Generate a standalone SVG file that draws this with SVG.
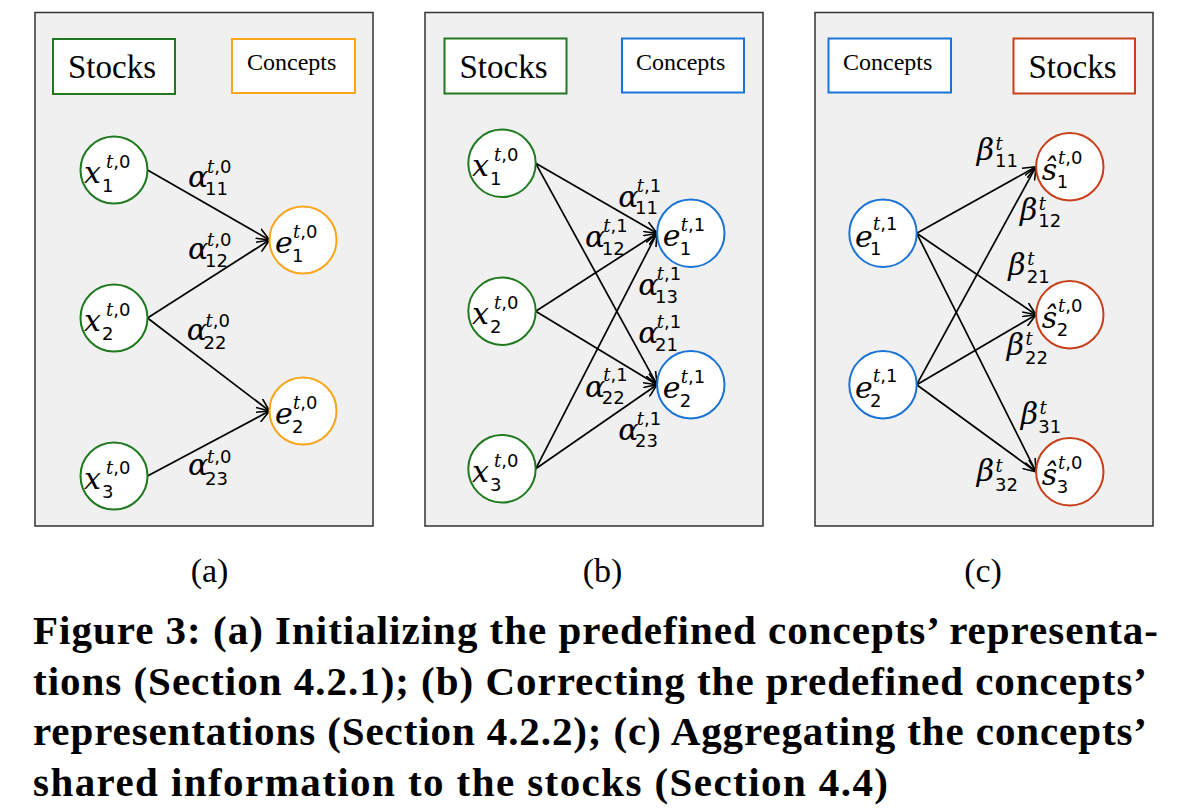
<svg xmlns="http://www.w3.org/2000/svg" width="1179" height="808" viewBox="0 0 1179 808">
<style>
.bg{fill:#ffffff}
.panel{fill:#f0f0f0;stroke:#333333;stroke-width:1.5}
.box{fill:#ffffff;stroke-width:2}
.nd{fill:#ffffff;stroke-width:2}
.g{stroke:#1f7a1f}
.o{stroke:#f9a61c}
.b{stroke:#1a73d6}
.r{stroke:#c8401a}
.bt{font-family:"Liberation Serif",serif;fill:#000}
.m{font-family:"DejaVu Serif",serif;font-style:italic;font-size:30px;fill:#000}
.s{font-family:"DejaVu Sans",sans-serif;font-size:18px;fill:#000}
.i{font-family:"DejaVu Serif",serif;font-style:italic}
.e{stroke:#000;stroke-width:1.7;fill:none;marker-end:url(#ah)}
.cap{font-family:"Liberation Serif",serif;font-weight:bold;font-size:41px;fill:#000}
.sub{font-family:"Liberation Serif",serif;font-size:34px;fill:#000;text-anchor:middle}
</style>
<defs>
<marker id="ah" viewBox="0 0 14 12" refX="13" refY="6" markerWidth="14" markerHeight="12" markerUnits="userSpaceOnUse" orient="auto">
<path d="M0,0.5 L13,6 L0,11.5" fill="none" stroke="#000" stroke-width="1.6"/>
</marker>
</defs>
<rect class="bg" x="0" y="0" width="1179" height="808"/>

<!-- Panel a -->
<g id="panel-a">
<rect class="panel" x="35" y="12.5" width="338" height="513.5"/>
<g id="a-stocks"><rect class="box g" x="53" y="39" width="122" height="55"/><text class="bt" x="68" y="78" font-size="33">Stocks</text></g>
<g id="a-concepts"><rect class="box o" x="232" y="39" width="123" height="54"/><text class="bt" x="247" y="70" font-size="24">Concepts</text></g>
</g>
<!-- Panel b -->
<g id="panel-b">
<rect class="panel" x="425" y="12.5" width="338" height="513.5"/>
<g id="b-stocks"><rect class="box g" x="444.5" y="38.5" width="122" height="55"/><text class="bt" x="459.5" y="77.7" font-size="33">Stocks</text></g>
<g id="b-concepts"><rect class="box b" x="622" y="38.5" width="122" height="54"/><text class="bt" x="636" y="70" font-size="24">Concepts</text></g>
</g>
<!-- Panel c -->
<g id="panel-c">
<rect class="panel" x="815" y="12.5" width="338" height="513.5"/>
<g id="c-concepts"><rect class="box b" x="828.5" y="38.5" width="122.5" height="54"/><text class="bt" x="843" y="70" font-size="24">Concepts</text></g>
<g id="c-stocks"><rect class="box r" x="1013.5" y="38.5" width="121.5" height="55"/><text class="bt" x="1028.5" y="77.7" font-size="33">Stocks</text></g>
</g>

<g id="connectors">
<!-- a -->
<path class="e" d="M147.5,170 L269.5,240"/>
<path class="e" d="M147.5,318 L269.5,240"/>
<path class="e" d="M147.5,318 L269.5,411"/>
<path class="e" d="M147.5,476 L269.5,411"/>
<!-- b -->
<path class="e" d="M535.7,163.3 L657,233.3"/>
<path class="e" d="M535.7,163.3 L657,384.7"/>
<path class="e" d="M535.7,311.2 L657,233.3"/>
<path class="e" d="M535.7,311.2 L657,384.7"/>
<path class="e" d="M535.7,468.8 L657,233.3"/>
<path class="e" d="M535.7,468.8 L657,384.7"/>
<!-- c -->
<path class="e" d="M916.7,233.3 L1036,166.7"/>
<path class="e" d="M916.7,233.3 L1036,314.7"/>
<path class="e" d="M916.7,233.3 L1036,471.8"/>
<path class="e" d="M916.7,384.7 L1036,166.7"/>
<path class="e" d="M916.7,384.7 L1036,314.7"/>
<path class="e" d="M916.7,384.7 L1036,471.8"/>
</g>

<g id="edge-labels">
<!-- a -->
<g id="la11"><text class="m" x="188" y="187">α</text><text class="s" x="207" y="173"><tspan class="i">t</tspan>,0</text><text class="s" x="205" y="194.5">11</text></g>
<g id="la12"><text class="m" x="188" y="258.5">α</text><text class="s" x="207" y="246"><tspan class="i">t</tspan>,0</text><text class="s" x="205" y="266.5">12</text></g>
<g id="la22"><text class="m" x="186.7" y="340">α</text><text class="s" x="205.5" y="326.7"><tspan class="i">t</tspan>,0</text><text class="s" x="203.5" y="349.3">22</text></g>
<g id="la23"><text class="m" x="188" y="475">α</text><text class="s" x="207" y="463"><tspan class="i">t</tspan>,0</text><text class="s" x="205" y="485">23</text></g>
<!-- b -->
<g id="lb11"><text class="m" x="618.3" y="206.7">α</text><text class="s" x="636.7" y="191.7"><tspan class="i">t</tspan>,1</text><text class="s" x="635" y="214">11</text></g>
<g id="lb12"><text class="m" x="585" y="246.7">α</text><text class="s" x="603.3" y="231.7"><tspan class="i">t</tspan>,1</text><text class="s" x="601.7" y="255">12</text></g>
<g id="lb13"><text class="m" x="638.3" y="295">α</text><text class="s" x="656.7" y="280"><tspan class="i">t</tspan>,1</text><text class="s" x="655" y="302.7">13</text></g>
<g id="lb21"><text class="m" x="638.3" y="343.3">α</text><text class="s" x="656.7" y="328.3"><tspan class="i">t</tspan>,1</text><text class="s" x="655" y="350.7">21</text></g>
<g id="lb22"><text class="m" x="585" y="396.7">α</text><text class="s" x="603.3" y="381"><tspan class="i">t</tspan>,1</text><text class="s" x="601.7" y="404.3">22</text></g>
<g id="lb23"><text class="m" x="618.3" y="440">α</text><text class="s" x="636.7" y="425"><tspan class="i">t</tspan>,1</text><text class="s" x="635" y="447.3">23</text></g>
<!-- c -->
<g id="lc11"><text class="m" x="976.7" y="160">β</text><text class="s i" x="995.5" y="150">t</text><text class="s" x="995" y="166.7">11</text></g>
<g id="lc12"><text class="m" x="1020" y="220">β</text><text class="s i" x="1038.8" y="210">t</text><text class="s" x="1038.3" y="227.3">12</text></g>
<g id="lc21"><text class="m" x="1008.3" y="275">β</text><text class="s i" x="1027.2" y="265">t</text><text class="s" x="1026.7" y="283.3">21</text></g>
<g id="lc22"><text class="m" x="1006.7" y="355">β</text><text class="s i" x="1025.5" y="345">t</text><text class="s" x="1025" y="364">22</text></g>
<g id="lc31"><text class="m" x="1020.7" y="424">β</text><text class="s i" x="1039.5" y="414">t</text><text class="s" x="1038.3" y="433.3">31</text></g>
<g id="lc32"><text class="m" x="976.7" y="481">β</text><text class="s i" x="995.5" y="471.7">t</text><text class="s" x="995" y="490.7">32</text></g>
</g>

<!-- nodes a -->
<g id="a-x1"><circle class="nd g" cx="114" cy="170" r="33.5"/><text class="m" x="84" y="183">x</text><text class="s" x="106" y="168"><tspan class="i">t</tspan>,0</text><text class="s" x="102" y="192">1</text></g>
<g id="a-x2"><circle class="nd g" cx="114" cy="318" r="33.5"/><text class="m" x="84" y="331">x</text><text class="s" x="106" y="316"><tspan class="i">t</tspan>,0</text><text class="s" x="102" y="340">2</text></g>
<g id="a-x3"><circle class="nd g" cx="114" cy="476" r="33.5"/><text class="m" x="84" y="489">x</text><text class="s" x="106" y="474"><tspan class="i">t</tspan>,0</text><text class="s" x="102" y="498">3</text></g>
<g id="a-e1"><circle class="nd o" cx="303" cy="240" r="33.5"/><text class="m" x="275" y="253">e</text><text class="s" x="293" y="238"><tspan class="i">t</tspan>,0</text><text class="s" x="292" y="262">1</text></g>
<g id="a-e2"><circle class="nd o" cx="303" cy="411" r="33.5"/><text class="m" x="275" y="424">e</text><text class="s" x="293" y="409"><tspan class="i">t</tspan>,0</text><text class="s" x="292" y="433">2</text></g>

<!-- nodes b -->
<g id="b-x1"><circle class="nd g" cx="502" cy="163.3" r="33.7"/><text class="m" x="472" y="176.3">x</text><text class="s" x="494" y="161.3"><tspan class="i">t</tspan>,0</text><text class="s" x="490" y="185.3">1</text></g>
<g id="b-x2"><circle class="nd g" cx="502" cy="311.2" r="33.7"/><text class="m" x="472" y="324.2">x</text><text class="s" x="494" y="309.2"><tspan class="i">t</tspan>,0</text><text class="s" x="490" y="333.2">2</text></g>
<g id="b-x3"><circle class="nd g" cx="502" cy="468.8" r="33.7"/><text class="m" x="472" y="481.8">x</text><text class="s" x="494" y="466.8"><tspan class="i">t</tspan>,0</text><text class="s" x="490" y="490.8">3</text></g>
<g id="b-e1"><circle class="nd b" cx="690.8" cy="233.3" r="33.7"/><text class="m" x="662.8" y="246.3">e</text><text class="s" x="680.8" y="231.3"><tspan class="i">t</tspan>,1</text><text class="s" x="679.8" y="255.3">1</text></g>
<g id="b-e2"><circle class="nd b" cx="690.8" cy="384.7" r="33.7"/><text class="m" x="662.8" y="397.7">e</text><text class="s" x="680.8" y="382.7"><tspan class="i">t</tspan>,1</text><text class="s" x="679.8" y="406.7">2</text></g>

<!-- nodes c -->
<g id="c-e1"><circle class="nd b" cx="883" cy="233.3" r="33.7"/><text class="m" x="855" y="246.5">e</text><text class="s" x="873" y="230"><tspan class="i">t</tspan>,1</text><text class="s" x="870" y="255">1</text></g>
<g id="c-e2"><circle class="nd b" cx="883" cy="384.7" r="33.7"/><text class="m" x="855" y="398">e</text><text class="s" x="873" y="381.5"><tspan class="i">t</tspan>,1</text><text class="s" x="870" y="406.5">2</text></g>
<g id="c-s1"><circle class="nd r" cx="1069.8" cy="166.7" r="33.7"/><text class="m" x="1041.8" y="179.7">ŝ</text><text class="s" x="1058" y="163.7"><tspan class="i">t</tspan>,0</text><text class="s" x="1056.8" y="187.7">1</text></g>
<g id="c-s2"><circle class="nd r" cx="1069.8" cy="314.7" r="33.7"/><text class="m" x="1041.8" y="327.7">ŝ</text><text class="s" x="1058" y="311.7"><tspan class="i">t</tspan>,0</text><text class="s" x="1056.8" y="335.7">2</text></g>
<g id="c-s3"><circle class="nd r" cx="1069.8" cy="471.8" r="33.7"/><text class="m" x="1041.8" y="484.8">ŝ</text><text class="s" x="1058" y="468.8"><tspan class="i">t</tspan>,0</text><text class="s" x="1056.8" y="492.8">3</text></g>

<g id="captions">
<text class="sub" x="209.5" y="582">(a)</text>
<text class="sub" x="602.5" y="582">(b)</text>
<text class="sub" x="983" y="582">(c)</text>
<text class="cap" x="33" y="644" textLength="1125">Figure 3: (a) Initializing the predefined concepts’ representa-</text>
<text class="cap" x="33" y="695" textLength="1114">tions (Section 4.2.1); (b) Correcting the predefined concepts’</text>
<text class="cap" x="33" y="745" textLength="1114">representations (Section 4.2.2); (c) Aggregating the concepts’</text>
<text class="cap" x="33" y="796" textLength="855">shared information to the stocks (Section 4.4)</text>
</g>
</svg>
